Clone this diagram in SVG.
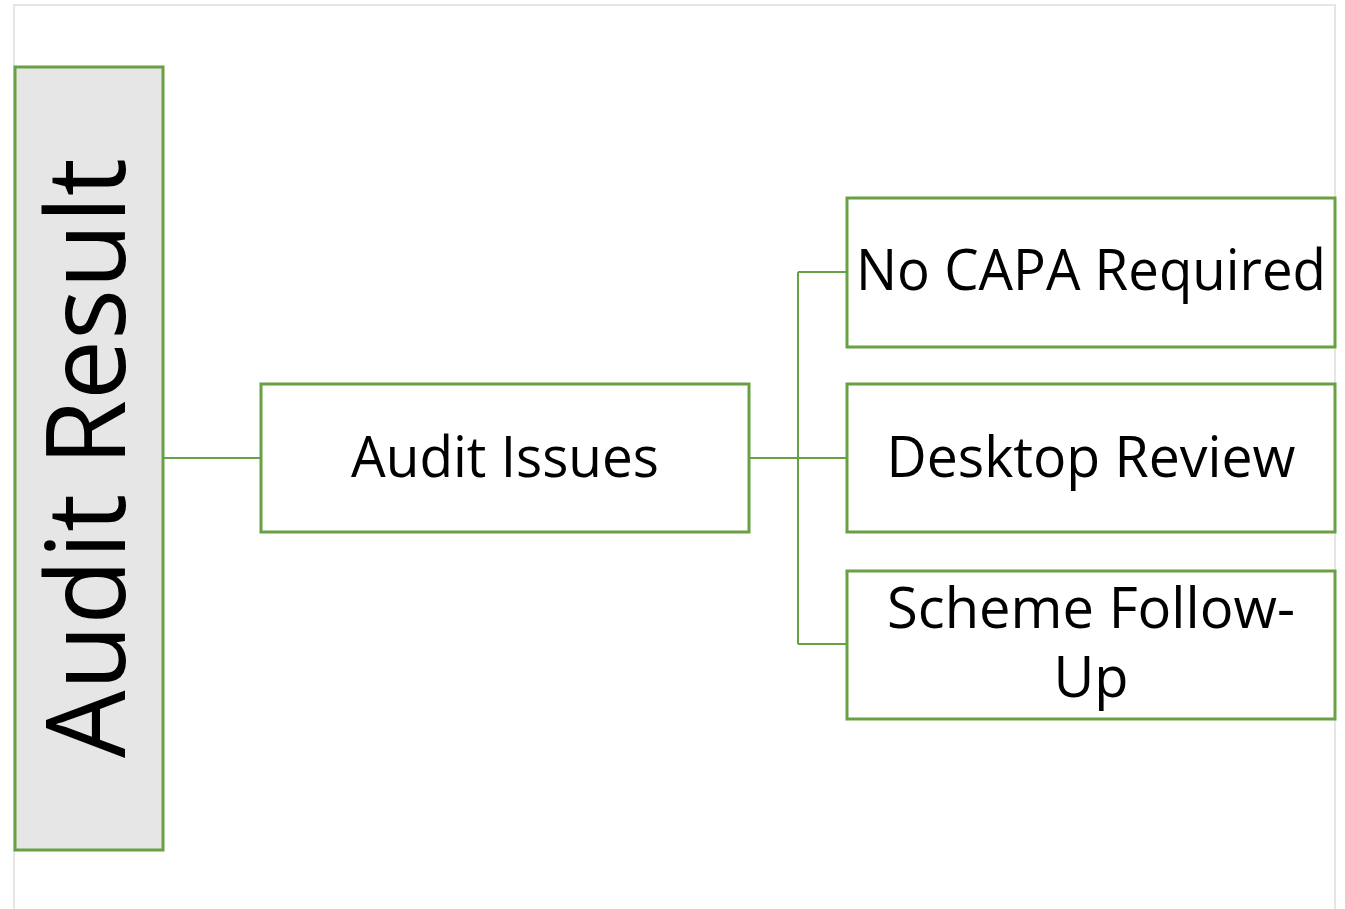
<svg xmlns="http://www.w3.org/2000/svg" width="1345" height="909" viewBox="0 0 1345 909">
<style>
.box{fill:#ffffff;stroke:#68a044;stroke-width:3}
.lbl{font-family:"Open Sans","Liberation Sans",sans-serif;font-size:56px;fill:#000;text-anchor:middle}
.conn{stroke:#68a044;stroke-width:2;fill:none}
</style>
<rect width="1345" height="909" fill="#ffffff"/>
<path d="M14,909 V5 H1335 V909" fill="none" stroke="#e6e6e6" stroke-width="2"/>
<g id="connectors">
<path class="conn" d="M164,458 H261"/>
<path class="conn" d="M749,458 H847"/>
<path class="conn" d="M798,272 V644"/>
<path class="conn" d="M798,272 H847"/>
<path class="conn" d="M798,644 H847"/>
</g>
<g id="audit-result">
<rect x="15" y="67" width="148" height="783" fill="#e6e6e6" stroke="#68a044" stroke-width="3"/>
<text class="lbl" transform="translate(125,458) rotate(-90)" x="0" y="0" style="font-size:110px" textLength="600" lengthAdjust="spacingAndGlyphs">Audit Result</text>
</g>
<g id="audit-issues">
<rect class="box" x="261" y="384" width="488" height="148"/>
<text class="lbl" x="505" y="477" textLength="308" lengthAdjust="spacingAndGlyphs">Audit Issues</text>
</g>
<g id="no-capa">
<rect class="box" x="847" y="198" width="488" height="149"/>
<text class="lbl" x="1091" y="290" textLength="470" lengthAdjust="spacingAndGlyphs">No CAPA Required</text>
</g>
<g id="desktop-review">
<rect class="box" x="847" y="384" width="488" height="148"/>
<text class="lbl" x="1091" y="477" textLength="409" lengthAdjust="spacingAndGlyphs">Desktop Review</text>
</g>
<g id="scheme-follow-up">
<rect class="box" x="847" y="571" width="488" height="148"/>
<text class="lbl" x="1091" y="628" textLength="408" lengthAdjust="spacingAndGlyphs">Scheme Follow-</text>
<text class="lbl" x="1091" y="697">Up</text>
</g>
</svg>
